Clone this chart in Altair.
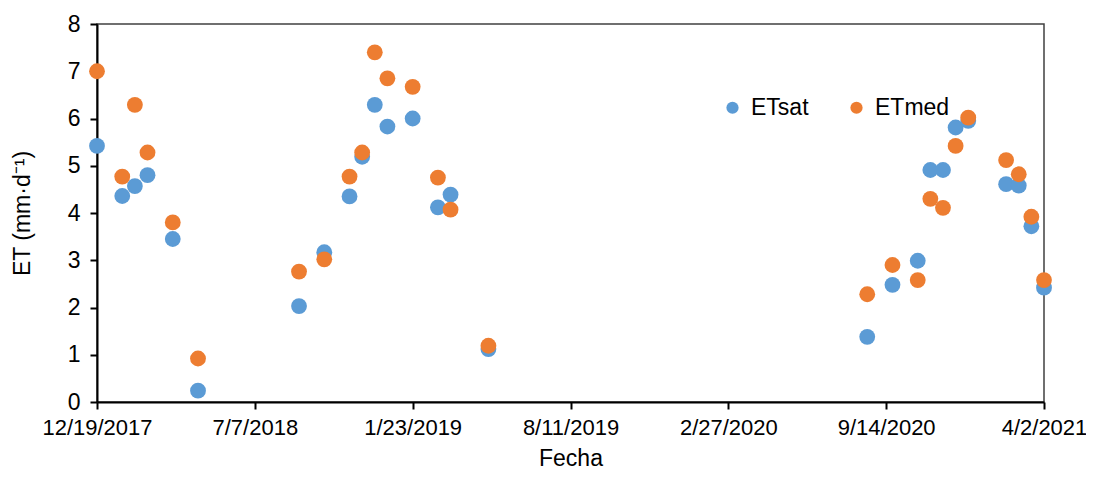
import altair as alt
import pandas as pd

fechas = [
    "2017-12-19", "2018-01-20", "2018-02-05", "2018-02-21", "2018-03-25", "2018-04-26",
    "2018-09-01", "2018-10-03", "2018-11-04", "2018-11-20", "2018-12-06", "2018-12-22",
    "2019-01-23", "2019-02-24", "2019-03-12", "2019-04-29",
    "2020-08-21", "2020-09-22", "2020-10-24", "2020-11-09", "2020-11-25", "2020-12-11",
    "2020-12-27", "2021-02-13", "2021-03-01", "2021-03-17", "2021-04-02",
]
et_sat = [5.42, 4.36, 4.57, 4.80, 3.45, 0.24,
          2.03, 3.17, 4.35, 5.19, 6.29, 5.83,
          6.00, 4.12, 4.39, 1.12,
          1.38, 2.48, 2.99, 4.91, 4.91, 5.81,
          5.95, 4.61, 4.58, 3.72, 2.42]
et_med = [7.00, 4.77, 6.29, 5.28, 3.80, 0.92,
          2.76, 3.02, 4.77, 5.28, 7.40, 6.85,
          6.67, 4.75, 4.07, 1.19,
          2.28, 2.90, 2.58, 4.30, 4.11, 5.42,
          6.02, 5.12, 4.82, 3.92, 2.58]
series = ["ETsat", "ETmed"]
colors = ["#5B9BD5", "#ED7D31"]
tick_dates = [(2017, 12, 19), (2018, 7, 7), (2019, 1, 23), (2019, 8, 11),
              (2020, 2, 27), (2020, 9, 14), (2021, 4, 2)]

rows = []
for name, vals in zip(series, [et_sat, et_med]):
    for f, v in zip(fechas, vals):
        rows.append({"Fecha": f + "T00:00:00", "serie": name, "ET": v, "orden": series.index(name)})
df = pd.DataFrame(rows)

FONT = "Liberation Sans"
FS = 23

chart = alt.Chart(df).mark_circle(size=250, opacity=1).encode(
    x=alt.X(
        "Fecha:T",
        title="Fecha",
        scale=alt.Scale(domain=[alt.DateTime(year=2017, month=12, date=19),
                                alt.DateTime(year=2021, month=4, date=2)]),
        axis=alt.Axis(
            values=[alt.DateTime(year=y, month=m, date=d) for y, m, d in tick_dates],
            format="%-m/%-d/%Y", grid=False, tickSize=7, labelPadding=8,
            titlePadding=9, labelFlush=False, labelFontSize=22,
        ),
    ),
    y=alt.Y(
        "ET:Q",
        title="ET (mm·d⁻¹)",
        scale=alt.Scale(domain=[0, 8], nice=False),
        axis=alt.Axis(values=list(range(0, 9)), grid=False, tickSize=7,
                      labelPadding=10, titlePadding=33),
    ),
    color=alt.Color(
        "serie:N",
        scale=alt.Scale(domain=series, range=colors),
        sort=series,
        legend=alt.Legend(
            title=None, orient="none", direction="horizontal",
            legendX=624, legendY=72, symbolSize=150, symbolType="circle",
            labelFontSize=FS, labelFont=FONT, labelColor="#000000",
            labelOffset=7, columnPadding=36, symbolOpacity=1,
        ),
    ),
    order=alt.Order("orden:Q"),
).properties(
    width=947, height=378,
    autosize=alt.AutoSizeParams(type="none"),
    padding={"left": 89, "top": 16, "right": 42, "bottom": 70},
).configure_view(
    stroke="#404040", strokeWidth=1.5,
).configure_axis(
    domainColor="#000000", domainWidth=2, tickColor="#000000", tickWidth=2,
    labelFont=FONT, labelFontSize=FS, labelColor="#000000",
    titleFont=FONT, titleFontSize=FS, titleColor="#000000", titleFontWeight="normal",
)

chart.save("out.html", embed_options={"renderer": "svg", "actions": False})
